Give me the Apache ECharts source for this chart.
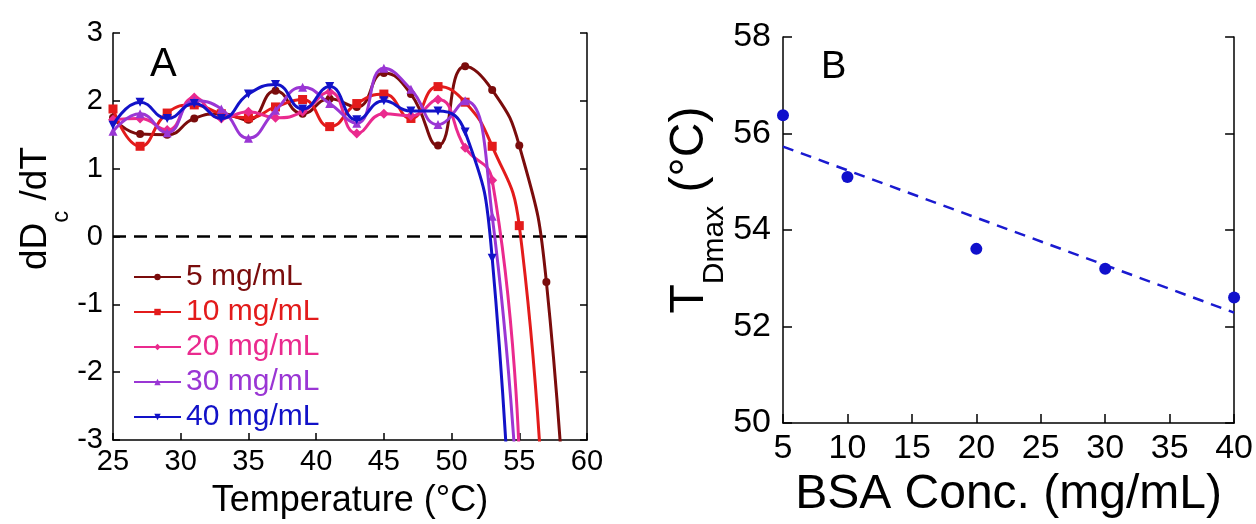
<!DOCTYPE html>
<html>
<head>
<meta charset="utf-8">
<script src="https://cdn.jsdelivr.net/npm/echarts@6/dist/echarts.min.js"></script>
<style>
html,body{margin:0;padding:0;background:#fff;}
#chart{width:1256px;height:524px;}
</style>
</head>
<body>
<div id="chart"></div>
<script>
// ---------- Panel A data ----------
const temps = [25,27,29,31,33,35,37,39,41,43,45,47,49,51,53,55,57,59];
const seriesNames = ['5 mg/mL','10 mg/mL','20 mg/mL','30 mg/mL','40 mg/mL'];
const d5  = [1.75,1.51,1.50,1.74,1.81,1.72,2.15,1.81,2.03,1.91,2.41,2.10,1.34,2.51,2.16,1.34,-0.67,-6.5];
const d10 = [1.88,1.33,1.82,1.94,1.81,1.75,1.91,2.02,1.62,1.96,2.10,1.74,2.21,1.98,1.33,0.16,-5.0];
const d20 = [1.72,1.74,1.57,2.05,1.74,1.84,1.75,1.84,2.13,1.52,1.81,1.78,2.02,1.31,0.83,-3.3];
const d30 = [1.55,1.81,1.53,2.00,1.88,1.45,1.86,2.20,1.96,1.67,2.48,2.17,1.65,2.00,0.30,-4.3];
const d40 = [1.64,1.98,1.74,1.96,1.74,2.10,2.24,1.88,2.21,1.72,2.00,1.85,1.85,1.54,-0.32,-7.5];
const zeroLineX = [25,60];
const zeroLineY = [0,0];

// ---------- Panel B data ----------
const bsaConc = [5,10,20,30,40];
const tDmax   = [56.38,55.10,53.61,53.20,52.60];
const fitX    = [5,40];
const fitY    = [55.73,52.29];

const colors = ['#7a0c0c','#e31b1b','#ea2a8e','#9a36d4','#1212c8'];
const symbols = ['circle','rect','diamond','triangle','triangle'];
const symbolSizes = [8,9,10,9,9];
const symbolRot = [0,0,0,0,180];
const allData = [d5,d10,d20,d30,d40];

const FONT = 'Liberation Sans, Arial, Helvetica, sans-serif';

function pairs(xs, ys){ return ys.map((v,i)=>[xs[i], v]); }

const lineSeries = seriesNames.map((n,i)=>({
  name: n, type: 'line', xAxisIndex: 0, yAxisIndex: 0,
  data: pairs(temps, allData[i]),
  smooth: 0.5,
  symbol: symbols[i], symbolSize: symbolSizes[i], symbolRotate: symbolRot[i],
  showAllSymbol: true,
  lineStyle: {color: colors[i], width: 3},
  itemStyle: {color: colors[i], opacity: 1},
  clip: true, z: 3 + i
}));

const axisLine = {show: true, onZero: false, lineStyle: {color: '#000', width: 1.5}};

const option = {
  animation: false,
  backgroundColor: '#fff',
  textStyle: {fontFamily: FONT},
  grid: [
    {left: 113, top: 33, width: 474, height: 417},
    {left: 783, top: 37, width: 453, height: 399}
  ],
  xAxis: [
    {type: 'value', gridIndex: 0, min: 25, max: 60, interval: 5,
     axisLine: axisLine, axisTick: {inside: true, length: 7, lineStyle: {color: '#000', width: 1.5}},
     splitLine: {show: false},
     axisLabel: {color: '#000', fontSize: 29, margin: 7, fontFamily: FONT},
     name: 'Temperature (°C)', nameLocation: 'middle', nameGap: 43,
     nameTextStyle: {color: '#000', fontSize: 36, fontFamily: FONT}},
    {type: 'value', gridIndex: 1, min: 5, max: 40, interval: 5,
     axisLine: axisLine, axisTick: {inside: true, length: 9, lineStyle: {color: '#000', width: 1.5}},
     splitLine: {show: false},
     axisLabel: {color: '#000', fontSize: 34, margin: 9, fontFamily: FONT},
     name: 'BSA Conc. (mg/mL)', nameLocation: 'middle', nameGap: 42,
     nameTextStyle: {color: '#000', fontSize: 48, fontFamily: FONT}}
  ],
  yAxis: [
    {type: 'value', gridIndex: 0, min: -3, max: 3, interval: 1, position: 'left',
     axisLine: axisLine, axisTick: {inside: true, length: 7, lineStyle: {color: '#000', width: 1.5}},
     splitLine: {show: false},
     axisLabel: {color: '#000', fontSize: 29, margin: 10, fontFamily: FONT},
     name: '{a|dD}{s|c}{a| /dT}', nameLocation: 'middle', nameGap: 34, nameRotate: 90,
     nameTextStyle: {padding: [0,0,0,56], rich: {
       a: {fontSize: 37, lineHeight: 37, verticalAlign: 'top', color: '#000', fontFamily: FONT},
       s: {fontSize: 24, lineHeight: 56, verticalAlign: 'bottom', color: '#000', fontFamily: FONT}
     }}},
    {type: 'value', gridIndex: 0, min: -3, max: 3, interval: 1, position: 'right',
     axisLine: axisLine, axisTick: {inside: true, length: 7, lineStyle: {color: '#000', width: 1.5}},
     splitLine: {show: false}, axisLabel: {show: false}},
    {type: 'value', gridIndex: 1, min: 50, max: 58, interval: 2, position: 'left',
     axisLine: axisLine, axisTick: {inside: true, length: 9, lineStyle: {color: '#000', width: 1.5}},
     splitLine: {show: false},
     axisLabel: {color: '#000', fontSize: 34, margin: 12, fontFamily: FONT},
     name: '{a|T}{s|Dmax}{a| (°C)}', nameLocation: 'middle', nameGap: 50, nameRotate: 90,
     nameTextStyle: {padding: [0,0,0,40], rich: {
       a: {fontSize: 48, lineHeight: 48, verticalAlign: 'top', color: '#000', fontFamily: FONT},
       s: {fontSize: 30, lineHeight: 64, verticalAlign: 'bottom', color: '#000', fontFamily: FONT}
     }}},
    {type: 'value', gridIndex: 1, min: 50, max: 58, interval: 2, position: 'right',
     axisLine: axisLine, axisTick: {inside: true, length: 9, lineStyle: {color: '#000', width: 1.5}},
     splitLine: {show: false}, axisLabel: {show: false}}
  ],
  legend: {
    orient: 'vertical', left: 128, top: 257,
    itemWidth: 47, itemHeight: 8, itemGap: 5,
    data: seriesNames.map((n,i)=>({name: n, textStyle: {color: colors[i]}})),
    textStyle: {fontSize: 30, fontFamily: FONT}
  },
  graphic: [
    {type: 'text', left: 150, top: 45, style: {text: 'A', font: '40px ' + FONT, fill: '#000'}},
    {type: 'text', left: 821, top: 49, style: {text: 'B', font: '38px ' + FONT, fill: '#000'}}
  ],
  series: [
    {name: 'zero', type: 'line', xAxisIndex: 0, yAxisIndex: 0,
     data: pairs(zeroLineX, zeroLineY), symbol: 'none',
     lineStyle: {color: '#000', width: 2.5, type: [13, 8]}, z: 2, silent: true},
    ...lineSeries,
    {name: 'fit', type: 'line', xAxisIndex: 1, yAxisIndex: 2,
     data: pairs(fitX, fitY), symbol: 'none',
     lineStyle: {color: '#1a1ad0', width: 2.5, type: [11, 8]}, z: 2},
    {name: 'TDmax', type: 'scatter', xAxisIndex: 1, yAxisIndex: 2,
     data: pairs(bsaConc, tDmax), symbol: 'circle', symbolSize: 12,
     itemStyle: {color: '#1010cc', opacity: 1}, clip: false, z: 3}
  ]
};

const chart = echarts.init(document.getElementById('chart'), null, {renderer: 'canvas'});
chart.setOption(option);
</script>
</body>
</html>
